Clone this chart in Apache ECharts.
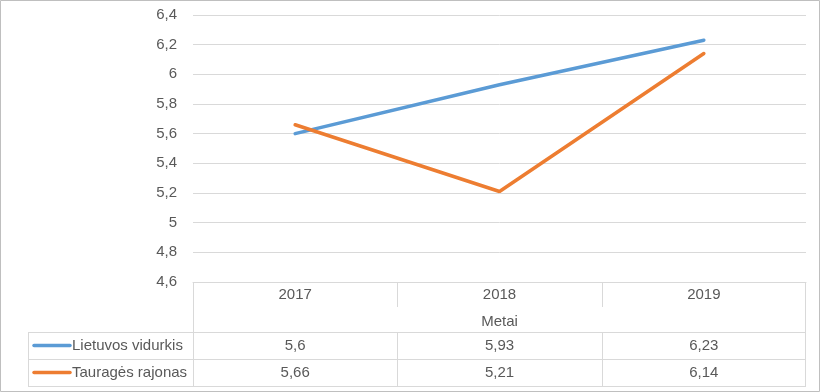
<!DOCTYPE html>
<html>
<head>
<meta charset="utf-8">
<script src="https://cdn.jsdelivr.net/npm/echarts@6/dist/echarts.min.js"></script>
<style>
html,body{margin:0;padding:0;background:#fff;}
#main{width:820px;height:392px;}
</style>
</head>
<body>
<div id="main"></div>
<script>
var categories = ['2017', '2018', '2019'];
var seriesNames = ['Lietuvos vidurkis', 'Tauragės rajonas'];
var lietuvosVidurkis = [5.6, 5.93, 6.23];
var tauragesRajonas = [5.66, 5.21, 6.14];
var axisName = 'Metai';
var yMin = 4.6, yMax = 6.4, yStep = 0.2;

var colors = ['#5b9bd5', '#ed7d31'];
var textColor = '#595959';
var lineColor = '#d9d9d9';
var fontFamily = 'Liberation Sans, Arial, sans-serif';
var fs = 15;

function fmt(v) {
  return String(+(+v).toFixed(2)).replace('.', ',');
}

var chart = echarts.init(document.getElementById('main'), null, {renderer: 'canvas'});

var option = {
  animation: false,
  backgroundColor: '#fff',
  textStyle: {fontFamily: fontFamily},
  grid: {left: 193, right: 14, top: 15, bottom: 110, containLabel: false},
  xAxis: {
    type: 'category',
    data: categories,
    boundaryGap: true,
    name: axisName,
    nameLocation: 'middle',
    nameGap: 32,
    nameTextStyle: {color: textColor, fontSize: fs, fontFamily: fontFamily},
    axisLine: {show: true, lineStyle: {color: lineColor, width: 1}},
    axisTick: {show: false},
    axisLabel: {color: textColor, fontSize: fs, fontFamily: fontFamily, margin: 5}
  },
  yAxis: {
    type: 'value',
    min: yMin,
    max: yMax,
    interval: yStep,
    axisLine: {show: false},
    axisTick: {show: false},
    splitLine: {lineStyle: {color: lineColor, width: 1}},
    axisLabel: {color: textColor, fontSize: fs, fontFamily: fontFamily, margin: 16,
      formatter: function (v) { return String(+v.toFixed(1)).replace('.', ','); }}
  },
  series: [
    {name: seriesNames[0], type: 'line', data: lietuvosVidurkis, showSymbol: false, symbol: 'none',
      lineStyle: {color: colors[0], width: 3.5, cap: 'round'}, itemStyle: {color: colors[0]}},
    {name: seriesNames[1], type: 'line', data: tauragesRajonas, showSymbol: false, symbol: 'none',
      lineStyle: {color: colors[1], width: 3.5, cap: 'round'}, itemStyle: {color: colors[1]}}
  ]
};
chart.setOption(option);

// Data table built from the axis scale and the data arrays
function buildTable() {
  var n = categories.length;
  var x0 = chart.convertToPixel({xAxisIndex: 0}, categories[0]);
  var x1 = chart.convertToPixel({xAxisIndex: 0}, categories[1]);
  var band = x1 - x0;
  var left = x0 - band / 2;
  var right = left + band * n;
  var top = chart.convertToPixel({yAxisIndex: 0}, yMin);
  var tableLeft = 28;
  var rowTop = top + 50;
  var rowH = 27;
  var rows = [lietuvosVidurkis, tauragesRajonas];
  var els = [];
  var ls = {stroke: lineColor, lineWidth: 1};
  function hline(y, xa, xb) {
    els.push({type: 'line', silent: true, shape: {x1: xa, y1: y, x2: xb, y2: y}, style: ls});
  }
  function vline(x, ya, yb) {
    els.push({type: 'line', silent: true, shape: {x1: x, y1: ya, x2: x, y2: yb}, style: ls});
  }
  var bottom = rowTop + rowH * rows.length;
  for (var r = 0; r <= rows.length; r++) {
    hline(Math.round(rowTop + r * rowH) + 0.5, tableLeft, right);
  }
  vline(tableLeft + 0.5, rowTop, bottom);
  vline(Math.round(left) + 0.5, top, bottom);
  vline(Math.round(right) - 0.5, top, bottom);
  for (var i = 1; i < n; i++) {
    var bx = Math.round(left + band * i) + 0.5;
    vline(bx, rowTop, bottom);
    vline(bx, top, top + 25);
  }
  for (r = 0; r < rows.length; r++) {
    var cy = rowTop + r * rowH + rowH / 2;
    els.push({type: 'line', silent: true,
      shape: {x1: tableLeft + 6, y1: cy, x2: tableLeft + 42, y2: cy},
      style: {stroke: colors[r], lineWidth: 3.5, lineCap: 'round'}});
    els.push({type: 'text', silent: true, x: tableLeft + 44, y: cy,
      style: {text: seriesNames[r], fill: textColor, font: fs + 'px ' + fontFamily,
        textAlign: 'left', textVerticalAlign: 'middle'}});
    for (i = 0; i < n; i++) {
      var cx = chart.convertToPixel({xAxisIndex: 0}, categories[i]);
      els.push({type: 'text', silent: true, x: cx, y: cy,
        style: {text: fmt(rows[r][i]), fill: textColor, font: fs + 'px ' + fontFamily,
          textAlign: 'center', textVerticalAlign: 'middle'}});
    }
  }
  // outer frame
  els.push({type: 'rect', silent: true, shape: {x: 0.5, y: 0.5, width: 819, height: 391},
    style: {fill: 'none', stroke: '#bfbfbf', lineWidth: 1}});
  chart.setOption({graphic: els});
}
buildTable();
</script>
</body>
</html>
